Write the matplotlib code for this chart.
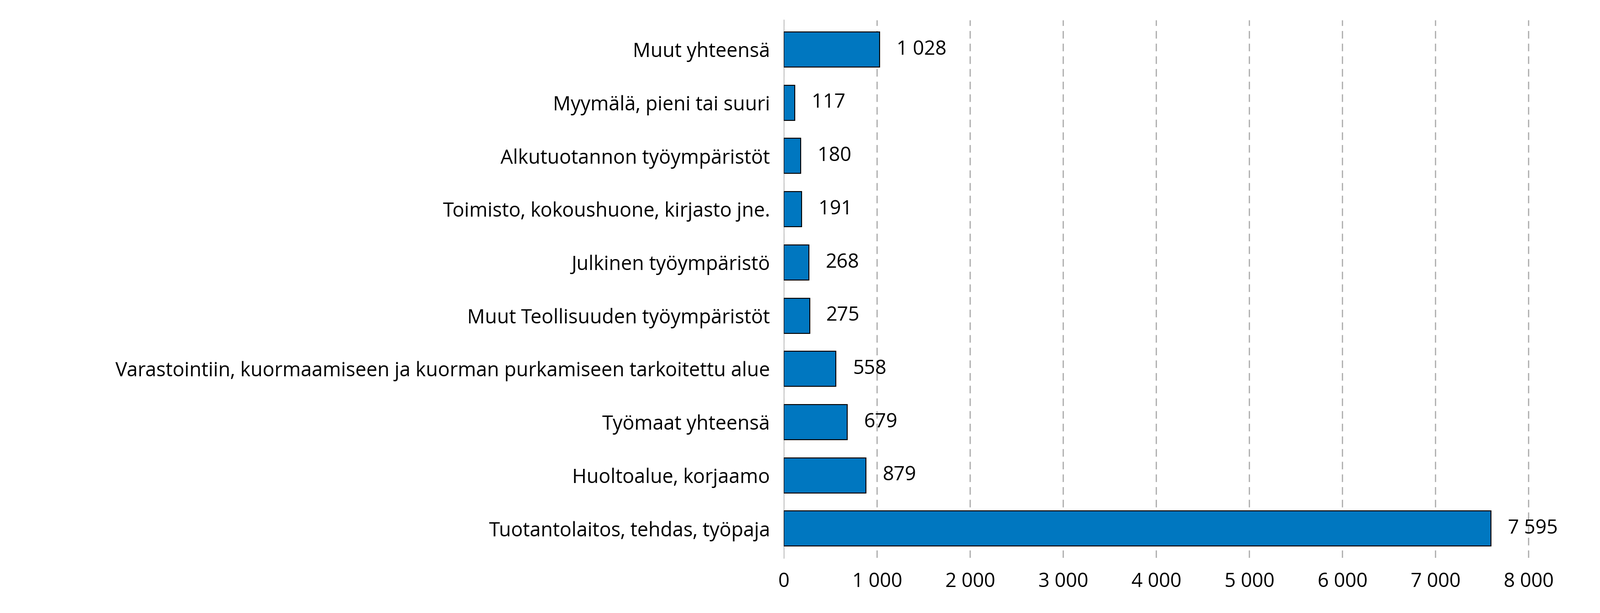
import matplotlib
matplotlib.use("Agg")
import matplotlib.pyplot as plt

categories = ["Tuotantolaitos, tehdas, työpaja", "Huoltoalue, korjaamo", "Työmaat yhteensä",
              "Varastointiin, kuormaamiseen ja kuorman purkamiseen tarkoitettu alue",
              "Muut Teollisuuden työympäristöt", "Julkinen työympäristö",
              "Toimisto, kokoushuone, kirjasto jne.", "Alkutuotannon työympäristöt",
              "Myymälä, pieni tai suuri", "Muut yhteensä"]
values = [7595, 879, 679, 558, 275, 268, 191, 180, 117, 1028]
xticks = [0, 1000, 2000, 3000, 4000, 5000, 6000, 7000, 8000]

def fmt(v):
    return f"{v:,}".replace(",", " ")

plt.rcParams["font.family"] = "Open Sans"
fig = plt.figure(figsize=(35.07, 13.44), dpi=100)
ax = fig.add_axes([0.49, 0.09, 0.477, 0.877])
y = range(len(categories))
ax.barh(y, values, height=0.66, color="#0077C0", edgecolor="black", linewidth=1.5, zorder=3)
for yi, v in zip(y, values):
    ax.text(v + 180, yi, fmt(v), va="center", ha="left", fontsize=31, zorder=4)
ax.set_yticks(list(y))
ax.set_yticklabels(categories, fontsize=31)
ax.set_xticks(xticks)
ax.set_xticklabels([fmt(t) for t in xticks], fontsize=31)
ax.set_xlim(0, 8200)
ax.set_ylim(-0.55, len(categories) - 0.45)
ax.grid(axis="x", linestyle=(0, (6, 4)), color="#b0b0b0", linewidth=2, zorder=0)
for s in ["top", "right", "bottom"]:
    ax.spines[s].set_visible(False)
ax.spines["left"].set_color("#d0d0d0")
ax.spines["left"].set_linewidth(2)
ax.tick_params(length=0, pad=22)
fig.savefig("out.png", dpi=100)
